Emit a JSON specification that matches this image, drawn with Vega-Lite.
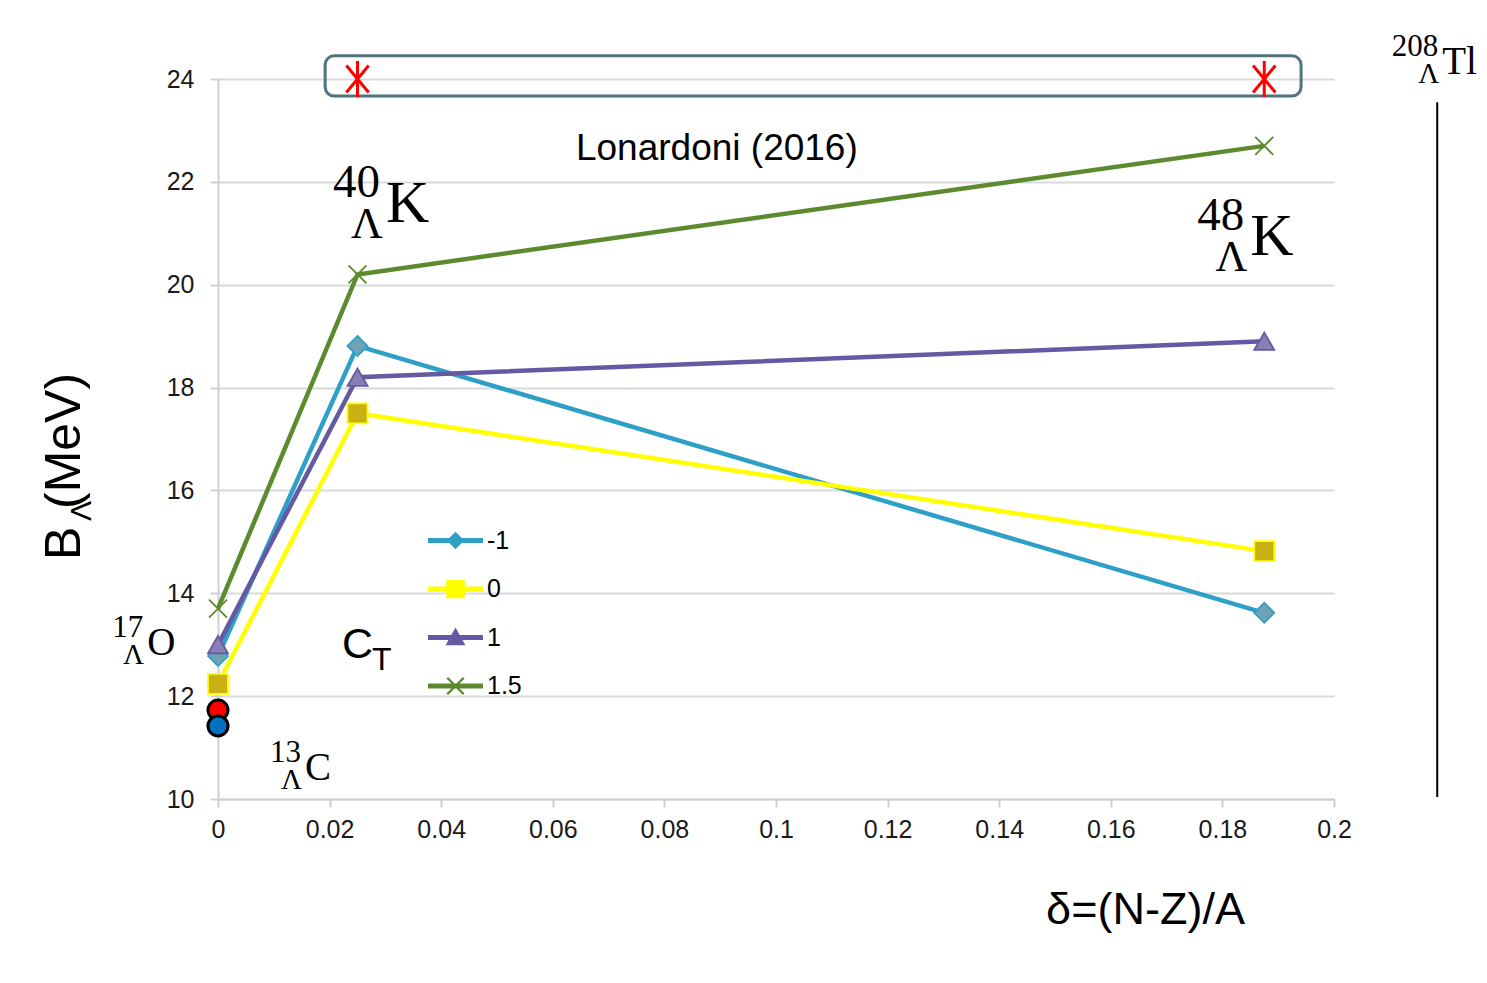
{
  "$schema": "https://vega.github.io/schema/vega-lite/v6.json",
  "width": 1116,
  "height": 720,
  "autosize": {"type": "none"},
  "padding": {"left": 218, "top": 79, "right": 153, "bottom": 184},
  "background": "white",
  "config": {
    "view": {"stroke": null},
    "font": "Liberation Sans",
    "axis": {
      "labelFont": "Liberation Sans",
      "labelFontSize": 25,
      "labelColor": "#1a1a1a",
      "domainColor": "#d0d0d0",
      "domainWidth": 2,
      "tickColor": "#d0d0d0",
      "tickWidth": 2,
      "tickSize": 8,
      "gridColor": "#d9d9d9",
      "gridWidth": 2,
      "labelFlush": false
    }
  },
  "datasets": {
    "series": [
      {"delta": 0, "B": 12.78, "CT": "-1"},
      {"delta": 0.025, "B": 18.81, "CT": "-1"},
      {"delta": 0.1875, "B": 13.62, "CT": "-1"},
      {"delta": 0, "B": 12.24, "CT": "0"},
      {"delta": 0.025, "B": 17.5, "CT": "0"},
      {"delta": 0.1875, "B": 14.82, "CT": "0"},
      {"delta": 0, "B": 13.0, "CT": "1"},
      {"delta": 0.025, "B": 18.2, "CT": "1"},
      {"delta": 0.1875, "B": 18.9, "CT": "1"},
      {"delta": 0, "B": 13.7, "CT": "1.5"},
      {"delta": 0.025, "B": 20.2, "CT": "1.5"},
      {"delta": 0.1875, "B": 22.7, "CT": "1.5"}
    ],
    "nuclides": [
      {"delta": 0.0301, "B": 21.22, "A": "40", "El": "K"},
      {"delta": 0.185, "B": 20.58, "A": "48", "El": "K"},
      {"delta": -0.0127, "B": 12.8, "A": "17", "El": "O"},
      {"delta": 0.0156, "B": 10.37, "A": "13", "El": "C"},
      {"delta": 0.2194, "B": 24.1, "A": "208", "El": "Tl"}
    ]
  },
  "encoding": {
    "x": {
      "field": "delta",
      "type": "quantitative",
      "title": "δ=(N-Z)/A",
      "scale": {"domain": [0, 0.2], "nice": false, "zero": false},
      "axis": {
        "values": [0, 0.02, 0.04, 0.06, 0.08, 0.1, 0.12, 0.14, 0.16, 0.18, 0.2],
        "format": "~g",
        "grid": false,
        "labelPadding": 10,
        "titleX": 927,
        "titleY": 124,
        "titleAlign": "center",
        "titleBaseline": "alphabetic",
        "titleFont": "Liberation Sans",
        "titleFontSize": 45,
        "titleFontWeight": "normal",
        "titleColor": "#000000"
      }
    },
    "y": {
      "field": "B",
      "type": "quantitative",
      "title": null,
      "scale": {"domain": [10, 24], "nice": false, "zero": false},
      "axis": {
        "values": [10, 12, 14, 16, 18, 20, 22, 24],
        "format": "d",
        "grid": true,
        "labelPadding": 16
      }
    }
  },
  "layer": [
    {
      "data": {"values": [{"delta": 0.0192, "delta2": 0.1941, "B": 24.45, "B2": 23.67}]},
      "mark": {"type": "rect", "fill": "transparent", "stroke": "#51737f", "strokeWidth": 3, "cornerRadius": 9},
      "encoding": {"x2": {"field": "delta2"}, "y2": {"field": "B2"}}
    },
    {
      "data": {"name": "series"},
      "mark": {"type": "line", "strokeWidth": 4.5},
      "encoding": {
        "color": {
          "field": "CT",
          "type": "nominal",
          "scale": {"domain": ["-1", "0", "1", "1.5"], "range": ["#2ea0c8", "#ffff00", "#6459a3", "#5d8a2f"]},
          "legend": null
        }
      }
    },
    {
      "data": {"name": "series"},
      "mark": {"type": "point", "size": 400, "strokeWidth": 1.8, "opacity": 1},
      "encoding": {
        "fill": {
          "field": "CT",
          "type": "nominal",
          "scale": {"domain": ["-1", "0", "1", "1.5"], "range": ["#6ea2b4", "#c9b014", "#8880b4", "transparent"]},
          "legend": null
        },
        "stroke": {
          "field": "CT",
          "type": "nominal",
          "scale": {"domain": ["-1", "0", "1", "1.5"], "range": ["#2ea0c8", "#ffff00", "#6459a3", "#5d8a2f"]},
          "legend": null
        },
        "shape": {
          "field": "CT",
          "type": "nominal",
          "scale": {"domain": ["-1", "0", "1", "1.5"], "range": ["diamond", "square", "triangle-up", "M-0.9,-0.9L0.9,0.9M-0.9,0.9L0.9,-0.9"]},
          "legend": null
        }
      }
    },
    {
      "data": {"name": "series"},
      "mark": {"type": "point", "filled": true, "opacity": 0},
      "encoding": {
        "color": {
          "field": "CT",
          "type": "nominal",
          "scale": {"domain": ["-1", "0", "1", "1.5"], "range": ["#2ea0c8", "#ffff00", "#6459a3", "#5d8a2f"]},
          "legend": {
            "title": null, "orient": "none", "legendX": 210, "legendY": 434,
            "symbolSize": 3025, "symbolOpacity": 1, "symbolStrokeWidth": 0,
            "labelFont": "Liberation Sans", "labelFontSize": 25, "labelColor": "#000000",
            "labelOffset": 4, "rowPadding": 7.5, "padding": 0
          }
        },
        "shape": {
          "field": "CT",
          "type": "nominal",
          "scale": {
            "domain": ["-1", "0", "1", "1.5"],
            "range": [
              "M-1,-0.09H1V0.09H-1ZM0,-0.32L0.32,0L0,0.32L-0.32,0Z",
              "M-1,-0.09H1V0.09H-1ZM-0.34,-0.34H0.34V0.34H-0.34Z",
              "M-1,-0.09H1V0.09H-1ZM0,-0.36L0.36,0.28H-0.36Z",
              "M-1,-0.09H1V0.09H-1ZM-0.27,-0.33L0.33,0.27L0.27,0.33L-0.33,-0.27ZM-0.33,0.27L0.27,-0.33L0.33,-0.27L-0.27,0.33Z"
            ]
          },
          "legend": {
            "title": null, "orient": "none", "legendX": 210, "legendY": 434,
            "symbolSize": 3025, "symbolOpacity": 1, "symbolStrokeWidth": 0,
            "labelFont": "Liberation Sans", "labelFontSize": 25, "labelColor": "#000000",
            "labelOffset": 4, "rowPadding": 7.5, "padding": 0
          }
        }
      }
    },
    {
      "data": {"values": [{"delta": 0.025, "B": 24}, {"delta": 0.1875, "B": 24}]},
      "mark": {"type": "point", "shape": "M0,-1L0,1M-0.62,-0.75L0.62,0.75M-0.62,0.75L0.62,-0.75", "size": 1296, "stroke": "#ff0000", "strokeWidth": 3, "fill": "transparent", "opacity": 1}
    },
    {
      "data": {"values": [{"delta": 0, "B": 11.73, "nucleus": "a"}, {"delta": 0, "B": 11.42, "nucleus": "b"}]},
      "mark": {"type": "point", "shape": "circle", "size": 400, "stroke": "#000000", "strokeWidth": 3, "filled": true, "opacity": 1},
      "encoding": {
        "fill": {"field": "nucleus", "type": "nominal", "scale": {"domain": ["a", "b"], "range": ["#ff0000", "#0070c0"]}, "legend": null}
      }
    },
    {
      "data": {"values": [{"delta": 0.2185, "B": 23.55, "B2": 10.04}]},
      "mark": {"type": "rule", "color": "#000000", "strokeWidth": 2},
      "encoding": {"y2": {"field": "B2"}}
    },
    {
      "data": {"values": [{"delta": 0.0894, "B": 22.425, "label": "Lonardoni (2016)"}]},
      "mark": {"type": "text", "font": "Liberation Sans", "fontSize": 37, "align": "center", "baseline": "alphabetic", "color": "#000000"},
      "encoding": {"text": {"field": "label"}}
    },
    {
      "data": {"name": "nuclides"},
      "transform": [{"filter": "datum.El === 'K'"}],
      "mark": {"type": "text", "font": "Liberation Serif", "fontSize": 60, "align": "left", "baseline": "alphabetic", "color": "#000000"},
      "encoding": {"text": {"field": "El"}}
    },
    {
      "data": {"name": "nuclides"},
      "transform": [{"filter": "datum.El === 'K'"}],
      "mark": {"type": "text", "font": "Liberation Serif", "fontSize": 47, "align": "right", "baseline": "alphabetic", "dx": -6, "dy": -25, "color": "#000000"},
      "encoding": {"text": {"field": "A"}}
    },
    {
      "data": {"name": "nuclides"},
      "transform": [{"filter": "datum.El === 'K'"}],
      "mark": {"type": "text", "font": "Liberation Serif", "fontSize": 44, "align": "right", "baseline": "alphabetic", "dx": -3, "dy": 16, "color": "#000000", "text": "Λ"}
    },
    {
      "data": {"name": "nuclides"},
      "transform": [{"filter": "datum.El !== 'K'"}],
      "mark": {"type": "text", "font": "Liberation Serif", "fontSize": 39, "align": "left", "baseline": "alphabetic", "color": "#000000"},
      "encoding": {"text": {"field": "El"}}
    },
    {
      "data": {"name": "nuclides"},
      "transform": [{"filter": "datum.El !== 'K'"}],
      "mark": {"type": "text", "font": "Liberation Serif", "fontSize": 31, "align": "right", "baseline": "alphabetic", "dx": -4, "dy": -18, "color": "#000000"},
      "encoding": {"text": {"field": "A"}}
    },
    {
      "data": {"name": "nuclides"},
      "transform": [{"filter": "datum.El !== 'K'"}],
      "mark": {"type": "text", "font": "Liberation Serif", "fontSize": 29, "align": "right", "baseline": "alphabetic", "dx": -3, "dy": 9, "color": "#000000", "text": "Λ"}
    },
    {
      "data": {"values": [{"delta": 0.0222, "B": 12.74, "main": "C", "sub": "T"}]},
      "mark": {"type": "text", "font": "Liberation Sans", "fontSize": 43, "align": "left", "baseline": "alphabetic", "color": "#000000"},
      "encoding": {"text": {"field": "main"}}
    },
    {
      "data": {"values": [{"delta": 0.0222, "B": 12.74, "main": "C", "sub": "T"}]},
      "mark": {"type": "text", "font": "Liberation Sans", "fontSize": 32, "align": "left", "baseline": "alphabetic", "dx": 30, "dy": 12, "color": "#000000"},
      "encoding": {"text": {"field": "sub"}}
    },
    {
      "data": {"values": [{"delta": -0.02473, "B": 14.647, "main": "B", "sub": "Λ", "rest": "(MeV)"}]},
      "mark": {"type": "text", "font": "Liberation Sans", "fontSize": 50, "angle": 270, "align": "left", "baseline": "alphabetic", "color": "#000000"},
      "encoding": {"text": {"field": "main"}}
    },
    {
      "data": {"values": [{"delta": -0.02473, "B": 14.647, "main": "B", "sub": "Λ", "rest": "(MeV)"}]},
      "mark": {"type": "text", "font": "Liberation Sans", "fontSize": 30, "angle": 270, "align": "left", "baseline": "alphabetic", "dx": 39, "dy": 11, "color": "#000000"},
      "encoding": {"text": {"field": "sub"}}
    },
    {
      "data": {"values": [{"delta": -0.02473, "B": 14.647, "main": "B", "sub": "Λ", "rest": "(MeV)"}]},
      "mark": {"type": "text", "font": "Liberation Sans", "fontSize": 50, "angle": 270, "align": "left", "baseline": "alphabetic", "dx": 51, "dy": 0, "color": "#000000"},
      "encoding": {"text": {"field": "rest"}}
    }
  ],
  "resolve": {"scale": {"color": "independent", "shape": "independent", "fill": "independent"}}
}
